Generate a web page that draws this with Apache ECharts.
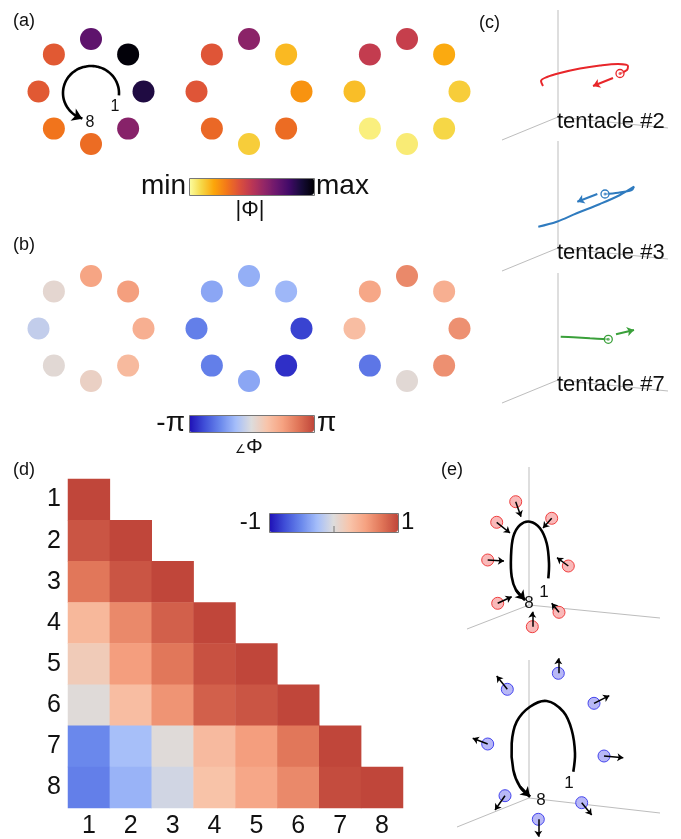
<!DOCTYPE html>
<html><head><meta charset="utf-8">
<script src="https://cdn.jsdelivr.net/npm/echarts@6/dist/echarts.min.js"></script>
<style>html,body{margin:0;padding:0;background:#fff}#c{width:681px;height:839px}</style>
</head><body><div id="c"></div>
<script>
// ---------------- DATA ----------------
const tentacles = ['1','2','3','4','5','6','7','8'];
// |Phi| (normalised 0=min .. 1=max), tentacles 1..8, three conditions
const ampCond1 = [0.63,0.88,0.99,0.73,0.38,0.38,0.31,0.33];
const ampCond2 = [0.33,0.24,0.16,0.62,0.39,0.39,0.34,0.12];
const ampCond3 = [0.10,0.12,0.19,0.47,0.48,0.15,0.04,0.05];
// angle(Phi) in radians, tentacles 1..8, three conditions
const phaseCond1 = [1.01,1.26,1.63,1.51,0.19,-0.38,0.13,0.38];
const phaseCond2 = [-2.76,-2.51,-0.88,-1.01,-1.13,-1.70,-1.70,-1.13];
const phaseCond3 = [1.88,1.88,1.26,2.01,1.45,0.94,-1.82,0.13];
// correlation matrix, lower triangle rows 1..8
const corrRows = [
  [1.00],
  [0.92,1.00],
  [0.74,0.92,1.00],
  [0.34,0.64,0.86,1.00],
  [0.18,0.52,0.74,0.94,1.00],
  [0.02,0.30,0.58,0.86,0.92,1.00],
  [-0.50,-0.24,0.02,0.32,0.52,0.74,1.00],
  [-0.54,-0.30,-0.06,0.26,0.46,0.64,0.97,1.00]
];
// (c) projected trajectories (relative to each panel's axis origin)
const trajT2 = [[-15,-31],[-17,-36],[-11,-40],[2,-44],[22,-48.5],[42,-51.5],[60,-53],[70,-51],[69,-47],[62,-43.5]];
const arrowT2 = [[55,-39],[35,-31]];
const trajT3 = [[-19.7,-21.3],[-1.3,-26.3],[18.7,-34.7],[42,-44],[62,-53],[76,-61.3],[73.7,-58],[60.3,-55.3],[47,-54]];
const arrowT3 = [[39.3,-54],[19.3,-46.3]];
const trajT7 = [[2.7,-43.3],[15.3,-42.7],[32,-41.7],[50.3,-40.7]];
const arrowT7 = [[58,-45.7],[76,-50]];
// (e) projected tentacle tips and direction arrows (relative to axis origin)
const tipsUp = [[-13.3,-103.3],[22.7,-86.7],[-32.3,-82.7],[-41.3,-45],[39.3,-39],[-31.3,-1.7],[30,7.3],[3.3,21.7]];
const dirUp  = [[-8,-88.3],[14,-77],[-19,-72],[-25,-44],[28,-47.3],[-17.3,-8.3],[22.7,-1.7],[3.3,6.7]];
const tipsDn = [[29.3,-124.7],[65,-94.7],[-21.7,-108.7],[-41.3,-54],[75,-42],[-24,-2.3],[52.7,4.7],[9.3,21.3]];
const dirDn  = [[29.3,-139.7],[80.3,-102.3],[-32.3,-122],[-56.3,-59.7],[94.3,-40.3],[-34,12],[62.7,17],[9.3,38.7]];
const loopUp = [[19.3,-26.7],[20,-41.7],[17.7,-61.7],[11,-76.7],[1,-83.3],[-9,-80],[-15.7,-68.3],[-18,-48.3],[-17.3,-28.3],[-13,-15],[-4,-5]];
const loopDn = [[44.3,-26.3],[46,-44.7],[42.7,-68],[34.3,-86.3],[17.7,-97],[1,-91.3],[-12.3,-76.3],[-17.3,-54.7],[-15.7,-28],[-9,-11.3],[1,-1.3]];

// ---------------- LAYOUT ----------------
const FONT = "'Liberation Sans', Arial, Helvetica, sans-serif";
const ringCx = [91, 249, 407];
const ringCyA = 91.5, ringCyB = 328.5, ringR = 52.5;
const cOrigX = 558, cOrigY = [117, 248, 380];
const eOrigX = 529, eOrigY = [605, 798];

function ringData(arrs, cy){
  const out = [];
  arrs.forEach((arr, r) => arr.forEach((v, k) => {
    const th = (-45 + 45 * k) * Math.PI / 180;
    out.push([ringCx[r] + ringR * Math.cos(th), cy - ringR * Math.sin(th), v]);
  }));
  return out;
}
const shift = (pts, ox, oy) => pts.map(p => [p[0] + ox, p[1] + oy]);

const inferno = ['#fcffa4','#f6d746','#fca50a','#f37819','#dd513a','#bc3754','#932667','#6a176e','#420a68','#160b39','#000004'];
const coolwarm = ['#1e0fb6','#4050d8','#6a88ec','#a5befa','#dddcdc','#f8c4aa','#f6a281','#e07558','#c0463a'];

const series = [];
series.push({type:'scatter', xAxisIndex:0, yAxisIndex:0, symbolSize:22, itemStyle:{opacity:1},
  data: ringData([ampCond1,ampCond2,ampCond3], ringCyA), z:3});
series.push({type:'scatter', xAxisIndex:0, yAxisIndex:0, symbolSize:22, itemStyle:{opacity:1},
  data: ringData([phaseCond1,phaseCond2,phaseCond3], ringCyB), z:3});
const hm = [];
corrRows.forEach((row, i) => row.forEach((v, j) => hm.push([j, i, v])));
series.push({type:'heatmap', xAxisIndex:1, yAxisIndex:1, data: hm});

// line helpers
function curve(pts, color, w, smooth){
  series.push({type:'line', xAxisIndex:0, yAxisIndex:0, data: pts, showSymbol:false, symbol:'none', smooth: smooth,
    lineStyle:{color:color, width:w}, silent:true, z:4});
}
function arrows(segs, color, w, size){
  series.push({type:'lines', coordinateSystem:'cartesian2d', xAxisIndex:0, yAxisIndex:0,
    symbol:['none','arrow'], symbolSize:size, lineStyle:{color:color, width:w, opacity:1},
    data: segs.map(s => ({coords: s})), silent:true, z:5});
}

// ---------------- GRAPHICS (axes frames, labels, schematic loops) ----------------
const g = [];
function txt(s, x, y, size, align, extra){
  g.push(Object.assign({type:'text', x:x, y:y, z:100, silent:true,
    style:{text:s, font: size + 'px ' + FONT, fill:'#111', align: align||'left', verticalAlign:'middle'}}, extra||{}));
}
function gline(x1, y1, x2, y2, color){
  g.push({type:'line', z:1, silent:true, shape:{x1:x1, y1:y1, x2:x2, y2:y2}, style:{stroke: color || '#bdbdbd', lineWidth:1}});
}
function frame(x, y, w, h){
  g.push({type:'rect', z:100, silent:true, shape:{x:x, y:y, width:w, height:h}, style:{fill:'none', stroke:'#777', lineWidth:1}});
}
function gcurve(pts, w){
  g.push({type:'polyline', z:50, silent:true, shape:{points:pts, smooth:0.35}, style:{stroke:'#000', lineWidth:w, fill:null}});
}

// (a) curved arrow
const arcPts = [];
for (let a = -5; a <= 246; a += 3) {
  const t = a * Math.PI / 180;
  arcPts.push([91 + 28 * Math.cos(t), 93 - 27 * Math.sin(t)]);
}
gcurve(arcPts, 2.6);
{
  const t1 = 240 * Math.PI / 180, t2 = 252 * Math.PI / 180;
  arrows([[[91 + 28*Math.cos(t1), 93 - 27*Math.sin(t1)], [91 + 28*Math.cos(t2), 93 - 27*Math.sin(t2)]]], '#000', 2.6, 10);
}

// (c) trajectories
const tColors = ['#e8262a', '#2f7bbf', '#3aa03a'];
const trajs = [trajT2, trajT3, trajT7], tarr = [arrowT2, arrowT3, arrowT7];
trajs.forEach((tr, i) => {
  const pts = shift(tr, cOrigX, cOrigY[i]);
  curve(pts, tColors[i], 2, 0.35);
  arrows([shift(tarr[i], cOrigX, cOrigY[i])], tColors[i], 2, 7);
  series.push({type:'scatter', xAxisIndex:0, yAxisIndex:0, symbolSize:8, data:[pts[pts.length-1]],
    itemStyle:{color:'rgba(255,255,255,0.5)', borderColor: tColors[i], borderWidth:1.3, opacity:1}, silent:true, z:6});
  series.push({type:'scatter', xAxisIndex:0, yAxisIndex:0, symbolSize:3, data:[pts[pts.length-1]],
    itemStyle:{color: tColors[i], opacity:0.7}, silent:true, z:7});
});

// (e) loops and tips
[loopUp, loopDn].forEach((lp, i) => {
  const pts = shift(lp, eOrigX, eOrigY[i]);
  gcurve(pts, 2.6);
  arrows([[pts[pts.length-2], pts[pts.length-1]]], '#000', 2.6, 9);
});
series.push({type:'scatter', xAxisIndex:0, yAxisIndex:0, symbolSize:12, data: shift(tipsUp, eOrigX, eOrigY[0]),
  itemStyle:{color:'#f9b9b9', borderColor:'#f04040', borderWidth:1, opacity:1}, silent:true, z:4});
series.push({type:'scatter', xAxisIndex:0, yAxisIndex:0, symbolSize:12, data: shift(tipsDn, eOrigX, eOrigY[1]),
  itemStyle:{color:'#b8b8f6', borderColor:'#4545ee', borderWidth:1, opacity:1}, silent:true, z:4});
arrows(tipsUp.map((p, k) => [[p[0]+eOrigX, p[1]+eOrigY[0]], [dirUp[k][0]+eOrigX, dirUp[k][1]+eOrigY[0]]]), '#000', 1.5, 6);
arrows(tipsDn.map((p, k) => [[p[0]+eOrigX, p[1]+eOrigY[1]], [dirDn[k][0]+eOrigX, dirDn[k][1]+eOrigY[1]]]), '#000', 1.5, 6);

txt('(a)', 13, 21, 18); txt('(b)', 13, 245, 18); txt('(c)', 479, 23, 18); txt('(d)', 13, 470, 18); txt('(e)', 441, 470, 18);
txt('1', 115, 107, 16, 'center'); txt('8', 90, 123, 16, 'center');
txt('min', 186, 186, 28, 'right'); txt('max', 316, 186, 28, 'left'); txt('|Φ|', 250, 210, 22, 'center');
txt('-π', 185, 423, 28, 'right'); txt('π', 317, 423, 28, 'left');
g.push({type:'text', x:249, y:447, z:100, silent:true,
  style:{text:'{s|∠}{p|Φ}', align:'center', verticalAlign:'middle', fill:'#111',
    rich:{s:{fontSize:12, fontFamily:FONT, fill:'#111', padding:[6,0,0,0]}, p:{fontSize:21, fontFamily:FONT, fill:'#111'}}}});
txt('-1', 261, 522, 24, 'right'); txt('1', 401, 522, 24, 'left');
frame(189.5, 178.5, 125, 17); frame(189.5, 415.5, 125, 17); frame(269.5, 513.5, 129, 19);
gline(334, 526, 334, 532, '#777'); g[g.length-1].z = 101;
['tentacle #2','tentacle #3','tentacle #7'].forEach((s, i) => {
  const oy = cOrigY[i];
  gline(cOrigX, oy - 107, cOrigX, oy);
  gline(cOrigX, oy, 502, oy + 23);
  gline(cOrigX, oy, 668, oy + 11);
  txt(s, 557, oy + 5, 22, 'left');
});
eOrigY.forEach((oy, i) => {
  gline(eOrigX, oy - 138, eOrigX, oy);
  gline(eOrigX, oy, i ? 457 : 467, oy + (i ? 29 : 24));
  gline(eOrigX, oy, 660, oy + (i ? 15 : 13));
});
txt('1', 544, 592, 17, 'center'); txt('8', 529, 603, 17, 'center');
txt('1', 569, 783, 17, 'center'); txt('8', 541, 800, 17, 'center');

const chart = echarts.init(document.getElementById('c'), null, {renderer:'canvas'});
chart.setOption({
  backgroundColor:'#fff',
  animation:false,
  grid:[
    {left:0, top:0, width:681, height:839},
    {left:68, top:479, width:335, height:335}
  ],
  xAxis:[
    {type:'value', min:0, max:681, show:false, gridIndex:0},
    {type:'category', data:tentacles, gridIndex:1, axisLine:{show:false}, axisTick:{show:false}, splitLine:{show:false},
     axisLabel:{fontSize:25, color:'#111', fontFamily:FONT, margin:6}}
  ],
  yAxis:[
    {type:'value', min:0, max:839, inverse:true, show:false, gridIndex:0},
    {type:'category', data:tentacles, inverse:true, gridIndex:1, axisLine:{show:false}, axisTick:{show:false}, splitLine:{show:false},
     axisLabel:{fontSize:25, color:'#111', fontFamily:FONT, margin:7}}
  ],
  visualMap:[
    {type:'continuous', min:0, max:1, seriesIndex:0, dimension:2, orient:'horizontal', left:189, top:178, padding:0,
     itemWidth:17, itemHeight:125, calculable:false, text:null, inRange:{color:inferno}, hoverLink:false},
    {type:'continuous', min:-Math.PI, max:Math.PI, seriesIndex:1, dimension:2, orient:'horizontal', left:189, top:415, padding:0,
     itemWidth:17, itemHeight:125, calculable:false, text:null, inRange:{color:coolwarm}, hoverLink:false},
    {type:'continuous', min:-1, max:1, seriesIndex:2, dimension:2, orient:'horizontal', left:269, top:513, padding:0,
     itemWidth:19, itemHeight:129, calculable:false, text:null, inRange:{color:coolwarm}, hoverLink:false}
  ],
  graphic: g,
  series: series
});
</script></body></html>
